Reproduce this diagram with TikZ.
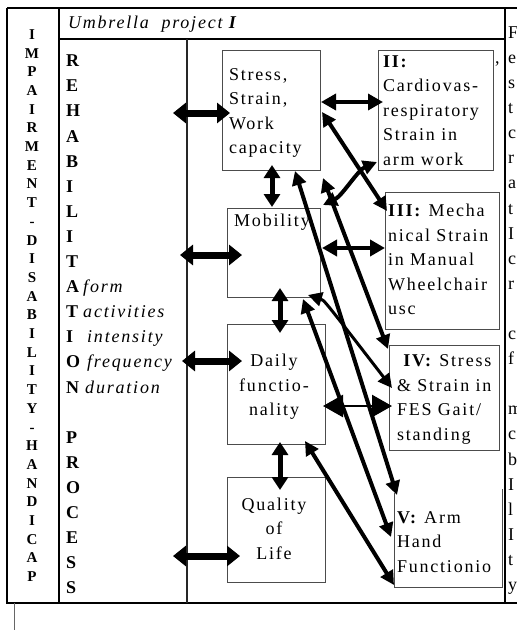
\documentclass[tikz,border=0pt]{standalone}
\usepackage{fontspec}
\setmainfont{Liberation Serif}
\newfontfamily\lsp[LetterSpace=10]{Liberation Serif}
\usetikzlibrary{arrows.meta,calc}
\newcommand\rwd[1]{{\lsp\mdseries\itshape #1}}
\begin{document}
\begin{tikzpicture}[x=1pt,y=-1pt,
 tbl/.style={line width=1.1pt},
 box/.style={draw=black!70, line width=0.9pt, inner sep=0pt, outer sep=0pt},
 txt/.style={inner sep=0pt, outer sep=0pt, font=\lsp\fontsize{18}{24.5}\selectfont},
 bigarr/.style={line width=7pt, {Triangle[length=13pt,width=20pt]}-{Triangle[length=13pt,width=20pt]}},
 vertarr/.style={line width=5pt, {Triangle[length=13pt,width=16pt]}-{Triangle[length=13pt,width=16pt]}},
 diagarr/.style={line width=4pt, {Triangle[length=14pt,width=14pt]}-{Triangle[length=14pt,width=14pt]}},
 harr/.style={line width=3.5pt, {Triangle[length=15pt,width=16pt]}-{Triangle[length=15pt,width=16pt]}},
 thinarr/.style={line width=2.5pt, {Triangle[length=20pt,width=22pt]}-{Triangle[length=20pt,width=22pt]}}
]
\useasboundingbox (0,0) rectangle (517,630);
% table frame
\draw[tbl] (7,8) -- (517,8);
\draw[tbl] (7,8) -- (7,603) -- (517,603);
\draw[tbl] (59,8) -- (59,603);
\draw[tbl] (59,39) -- (505,39);
\draw[tbl] (505,8) -- (505,603);
\draw[line width=1.8pt, black!85] (187,39) -- (187,603);
\draw[line width=0.9pt, black!60] (14,603) -- (14,630);

% header
\node[txt, font=\lsp\itshape\fontsize{18}{20}\selectfont, anchor=base west] (umb) at (68,28.5) {Umbrella\ \ project \textbf{I}};

% left column (anchor base = last line)
\node[inner sep=0pt, anchor=base, align=center, font=\bfseries\fontsize{15}{18.7}\selectfont] (imp) at (32,581.6)
 {I\\M\\P\\A\\I\\R\\M\\E\\N\\T\\-\\D\\I\\S\\A\\B\\I\\L\\I\\T\\Y\\-\\H\\A\\N\\D\\I\\C\\A\\P};

% rehabilitation column
\node[inner sep=0pt, anchor=base west, align=left, font=\bfseries\fontsize{18}{25.1}\selectfont] (rehab) at (66,593.8)
 {R\\E\\H\\A\\B\\I\\L\\I\\T\\
  \makebox[17pt][l]{A}\rwd{form}\\
  \makebox[17pt][l]{T}\rwd{activities}\\
  \makebox[21pt][l]{I}\rwd{intensity}\\
  \makebox[21pt][l]{O}\rwd{frequency}\\
  \makebox[19pt][l]{N}\rwd{duration}\\{}\\
  P\\R\\O\\C\\E\\S\\S};

% right truncated column
\node[inner sep=0pt, anchor=base west, align=left, font=\fontsize{18}{25.1}\selectfont] (rcol) at (508,590.5)
 {F\\e\\s\\t\\c\\r\\a\\t\\I\\c\\r\\{}\\c\\f\\{}\\m\\c\\b\\I\\l\\I\\t\\y};

% boxes
\node[box, minimum width=98pt, minimum height=120pt] (stress) at (271,110) {};
\node[box, minimum width=93pt, minimum height=89pt] (mob) at (273.5,252.5) {};
\node[box, minimum width=98pt, minimum height=120pt] (daily) at (276,384) {};
\node[box, minimum width=98pt, minimum height=105pt] (qol) at (276,529.5) {};
\node[box, minimum width=115pt, minimum height=120pt] (ii) at (435.5,110) {};
\node[box, minimum width=114pt, minimum height=137pt] (iii) at (442,260.5) {};
\node[box, minimum width=110pt, minimum height=105pt] (iv) at (444,397.5) {};
\node[inner sep=0pt, outer sep=0pt, minimum width=108pt, minimum height=98pt] (v) at (448,538) {};
\draw[draw=black!70, line width=0.9pt] ($(v.north west)+(0,4)$) -- (v.south west) -- (v.south east) -- (v.north east);

% box texts (anchor base = last line)
\node[txt, anchor=base west, align=left] (stresst) at (229,153.5) {Stress,\\Strain,\\Work\\capacity};
\node[txt, anchor=base] (mobt) at (272,226) {Mobility};
\node[txt, anchor=base, align=center] (dailyt) at (274,415.5) {Daily\\functio-\\nality};
\node[txt, anchor=base, align=center] (qolt) at (274,559) {Quality\\of\\Life};
\node[txt, anchor=base west, align=left] (iit) at (383,165) {\textbf{II:}\\Cardiovas-\\respiratory\\Strain in\\arm work};
\node[txt, anchor=base west] (comma) at (495,63) {,};
\node[txt, anchor=base west, align=left] (iiit) at (388,314.5) {\textbf{III:} Mecha\\nical Strain\\in Manual\\Wheelchair\\usc};
\node[txt, anchor=base west, align=left] (ivt) at (397,440) {\ \textbf{IV:} Stress\\\& Strain in\\FES Gait/\\standing};
\node[txt, anchor=base west, align=left] (vt) at (397,572.3) {\textbf{V:} Arm\\Hand\\Functionio};

% free ends of the process arrows
\coordinate (p1) at (173,113);
\coordinate (p2) at (180,255);
\coordinate (p3) at (182,361);
\coordinate (p4) at (173,556);

% process arrows
\draw[bigarr] (p1) -- ($(stress.west)+(8,3)$);
\draw[bigarr] (p2) -- ($(mob.west)+(15,2.5)$);
\draw[bigarr] (p3) -- ($(daily.west)+(15,-23)$);
\draw[bigarr] (p4) -- ($(qol.west)+(13,26.5)$);

% vertical arrows between left boxes
\draw[vertarr] ($(stress.south)+(1,-5)$) -- ($(mob.north)+(-1.5,-1)$);
\draw[vertarr] ($(mob.south)+(6.5,-9)$) -- ($(daily.north)+(4,9)$);
\draw[vertarr] ($(daily.south)+(4,-2)$) -- ($(qol.north)+(4,13)$);

% horizontal arrows
\draw[harr] ($(stress.east)+(1,-8)$) -- ($(ii.west)+(5,-8)$);
\draw[harr, line width=4pt] ($(mob.east)+(2,-4.5)$) -- ($(iii.west)+(0,-12.5)$);
\draw[thinarr] ($(daily.east)+(-2,22)$) -- ($(iv.west)+(3,8.5)$);

% diagonal arrows
\draw[diagarr] ($(stress.east)+(2,2)$) -- ($(iii.north west)+(2,19)$);
\draw[diagarr] ($(mob.north east)+(3,-3)$) .. controls (342,196) and (358,170) .. ($(ii.south west)+(-1,-8)$);
\draw[diagarr] ($(stress.south)+(24,1)$) -- ($(v.north west)+(3,6)$);
\draw[diagarr] ($(stress.south east)+(3,8)$) -- ($(iv.north west)+(-1,4)$);
\draw[diagarr] ($(mob.south east)+(-17,2)$) -- ($(v.west)+(-3,-1)$);
\draw[diagarr, line width=3pt] ($(mob.south east)+(-12,-2)$) .. controls (324,300) .. ($(iv.west)+(3,-9.5)$);
\draw[diagarr] ($(daily.south east)+(-20,-3)$) -- ($(v.south west)+(0,-2)$);
\end{tikzpicture}
\end{document}
